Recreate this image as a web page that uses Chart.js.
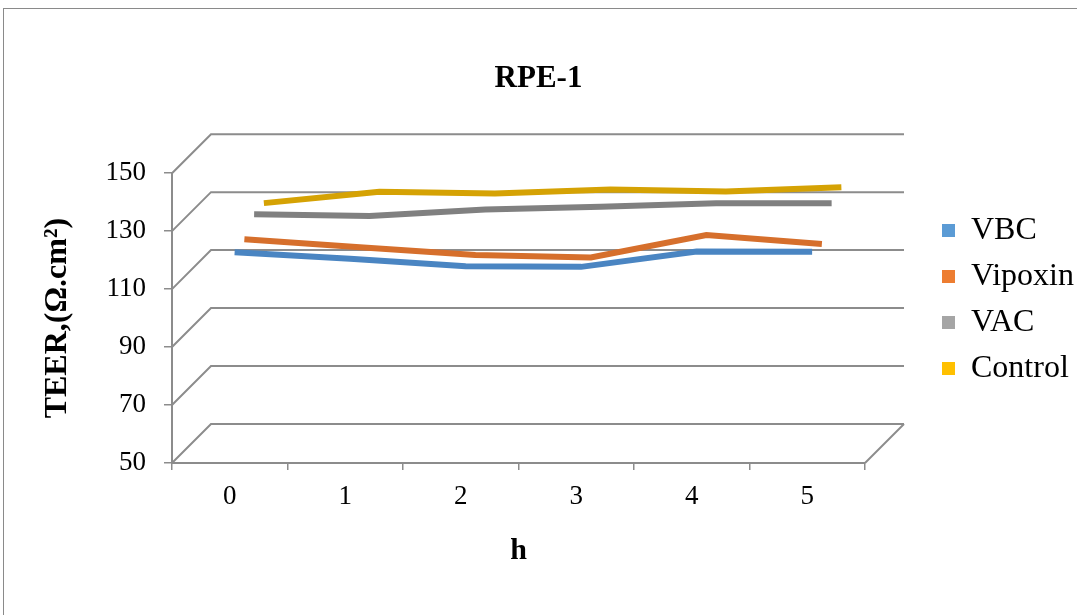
<!DOCTYPE html>
<html lang="en">
<head>
    <meta charset="UTF-8">
    <title>RPE-1</title>
    <script src="https://cdn.jsdelivr.net/npm/chart.js"></script>
    <style>
        body {
            margin: 0;
            padding: 0;
            width: 1077px;
            height: 615px;
            overflow: hidden;
            background: #fff;
            position: relative;
        }
        .frame {
            position: absolute;
            left: 3px;
            top: 8px;
            width: 1100px;
            height: 700px;
            border: 1px solid #8a8a8a;
        }
        #chartBox {
            position: absolute;
            left: 0;
            top: 0;
            width: 1077px;
            height: 615px;
        }
    </style>
</head>
<body>

<div class="frame"></div>
<div id="chartBox"><canvas id="teerChart"></canvas></div>

<script>
    // values (TEER, Ohm.cm2)
    const hours = ['0', '1', '2', '3', '4', '5'];
    const seriesNames = ['VBC', 'Vipoxin', 'VAC', 'Control'];
    const vbc = [121, 118.8, 116.2, 116, 121.3, 121.2];
    const vipoxin = [122.2, 119.4, 116.7, 115.9, 123.6, 120.5];
    const vac = [127.4, 126.8, 129.1, 130, 131.2, 131.2];
    const control = [127.9, 131.8, 131.2, 132.6, 131.9, 133.4];
    const yMin = 50, yMax = 150, yStep = 20;

    const lineColors = ['#4a85c2', '#d66f2c', '#808080', '#d5a204'];
    const legendColors = ['#5b9bd5', '#ed7d31', '#a5a5a5', '#ffc000'];

    const DEPTH = 39;        // depth of the fake 3D box, px
    const LEGEND_W = 149;    // fixed legend width
    const gridGray = '#8c8c8c';
    const serif = "'Liberation Serif', 'Times New Roman', serif";

    // back wall + floor edges, drawn behind the lines
    const wallPlugin = {
        id: 'walls',
        beforeDatasetsDraw(chart) {
            const { ctx, chartArea: a, scales: { y } } = chart;
            ctx.save();
            ctx.strokeStyle = gridGray;
            ctx.lineWidth = 2;
            y.ticks.forEach(t => {
                const py = y.getPixelForValue(t.value);
                ctx.beginPath();
                ctx.moveTo(a.left, py);
                ctx.lineTo(a.left + DEPTH, py - DEPTH);
                ctx.lineTo(a.right + DEPTH, py - DEPTH);
                ctx.stroke();
            });
            ctx.beginPath();
            ctx.moveTo(a.right, a.bottom);
            ctx.lineTo(a.right + DEPTH, a.bottom - DEPTH);
            ctx.stroke();
            ctx.restore();
        }
    };

    // push each series back to its own depth slot
    const depthPlugin = {
        id: 'depth',
        beforeDatasetDraw(chart, args) {
            const n = chart.data.datasets.length;
            const k = (args.index + 0.5) / n;
            chart.ctx.save();
            chart.ctx.translate(DEPTH * k, -DEPTH * k);
        },
        afterDatasetDraw(chart) {
            chart.ctx.restore();
        }
    };

    // keep the legend box a fixed width so the plot edge stays put
    const legendWidthPlugin = {
        id: 'legendWidth',
        beforeInit(chart) {
            const lg = chart.legend;
            if (!lg) return;
            const fit = lg.fit.bind(lg);
            lg.fit = function () {
                fit();
                this.width = LEGEND_W;
            };
        }
    };

    function plotChart() {
        const ctx = document.getElementById('teerChart').getContext('2d');
        const allValues = [vbc, vipoxin, vac, control];

        new Chart(ctx, {
            type: 'line',
            data: {
                labels: hours,
                datasets: seriesNames.map((name, i) => ({
                    label: name,
                    data: allValues[i],
                    borderColor: lineColors[i],
                    backgroundColor: legendColors[i],
                    borderWidth: 6,
                    borderCapStyle: 'butt',
                    pointRadius: 0,
                    tension: 0,
                    clip: false
                }))
            },
            options: {
                responsive: true,
                maintainAspectRatio: false,
                animation: false,
                layout: { padding: { left: 0, top: 0, right: 0, bottom: 16 } },
                scales: {
                    x: {
                        offset: true,
                        grid: {
                            offset: true,
                            drawOnChartArea: false,
                            tickLength: 7,
                            color: gridGray,
                            lineWidth: 1.5
                        },
                        border: { color: gridGray, width: 2 },
                        ticks: {
                            padding: 11,
                            color: '#000',
                            font: { family: serif, size: 27 }
                        },
                        title: {
                            display: true,
                            text: 'h',
                            color: '#000',
                            padding: { top: 19, bottom: 30 },
                            font: { family: serif, size: 30, weight: 'bold' }
                        },
                        afterFit(scale) { scale.height = 136; }
                    },
                    y: {
                        min: yMin,
                        max: yMax,
                        grid: {
                            drawOnChartArea: false,
                            tickLength: 8,
                            color: gridGray,
                            lineWidth: 1.5
                        },
                        border: { color: gridGray, width: 2 },
                        ticks: {
                            stepSize: yStep,
                            padding: 18,
                            color: '#000',
                            font: { family: serif, size: 27 }
                        },
                        title: {
                            display: true,
                            text: 'TEER,(Ω.cm²)',
                            color: '#000',
                            padding: { top: 39, bottom: 29 },
                            font: { family: serif, size: 32, weight: 'bold' }
                        },
                        afterFit(scale) { scale.width = 172; }
                    },
                    // empty spacer between the plot and the legend
                    gap: {
                        type: 'linear',
                        position: 'right',
                        grid: { display: false },
                        ticks: { display: false },
                        border: { display: false },
                        afterFit(scale) { scale.width = 63; }
                    }
                },
                plugins: {
                    title: {
                        display: true,
                        text: 'RPE-1',
                        color: '#000',
                        padding: { top: 60, bottom: 76 },
                        font: { family: serif, size: 31, weight: 'bold' }
                    },
                    legend: {
                        position: 'right',
                        labels: {
                            boxWidth: 13,
                            boxHeight: 13,
                            padding: 14,
                            color: '#000',
                            font: { family: serif, size: 32 },
                            generateLabels: (chart) => chart.data.datasets.map((ds, i) => ({
                                text: ds.label,
                                fillStyle: legendColors[i],
                                strokeStyle: legendColors[i],
                                lineWidth: 0,
                                hidden: false,
                                datasetIndex: i
                            }))
                        }
                    },
                    tooltip: { enabled: false }
                }
            },
            plugins: [wallPlugin, depthPlugin, legendWidthPlugin]
        });
    }

    document.addEventListener('DOMContentLoaded', plotChart);
</script>

</body>
</html>
